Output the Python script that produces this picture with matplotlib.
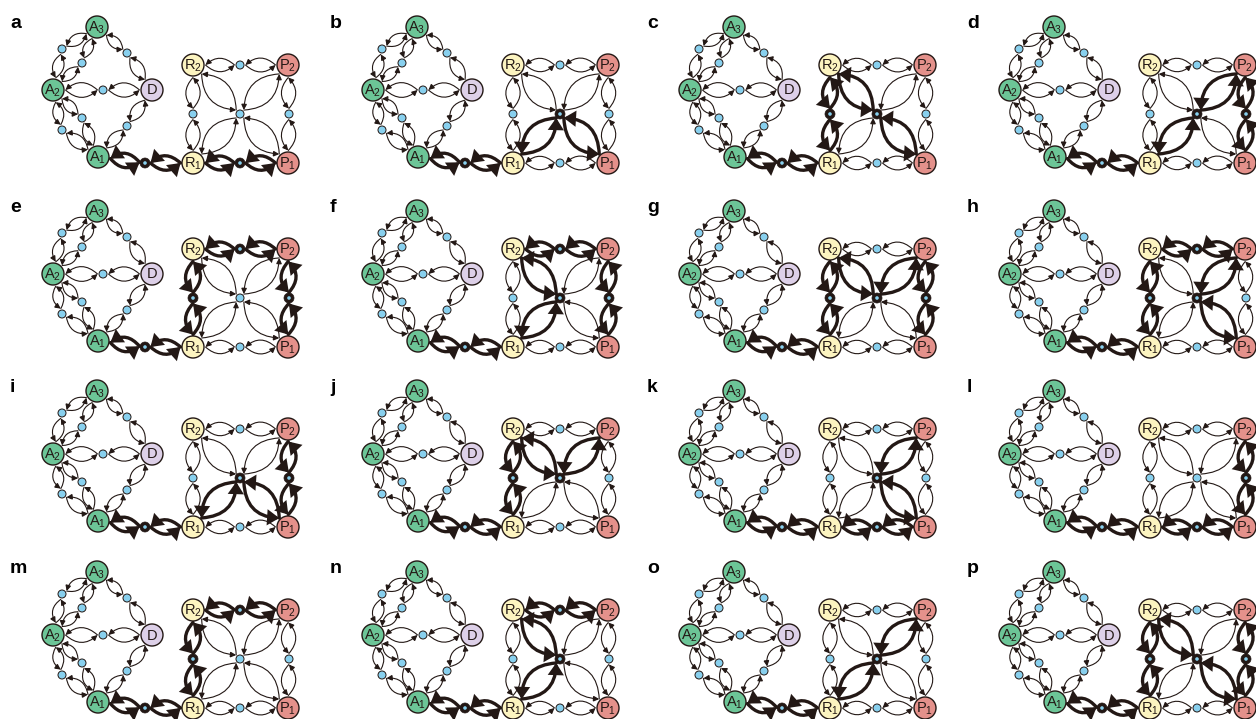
import numpy as np
import matplotlib.pyplot as plt
from matplotlib.patches import Circle, FancyArrowPatch

plt.rcParams['font.family'] = ['Liberation Sans', 'DejaVu Sans']
plt.rcParams['mathtext.fontset'] = 'custom'
plt.rcParams['mathtext.rm'] = 'Liberation Sans'

# ---- data ----
panels = list('abcdefghijklmnop')

# states of the network and their labels
states = ['A1', 'A2', 'A3', 'D', 'R1', 'R2', 'P1', 'P2']
state_labels = [r'$\mathregular{A_1}$', r'$\mathregular{A_2}$', r'$\mathregular{A_3}$', 'D',
                r'$\mathregular{R_1}$', r'$\mathregular{R_2}$', r'$\mathregular{P_1}$', r'$\mathregular{P_2}$']
state_kind = ['A', 'A', 'A', 'D', 'R', 'R', 'P', 'P']

# links: state -> transition point -> state
link_names = ['A3A2o', 'A3A2i', 'A2A1i', 'A2A1o', 'A3D', 'A2D', 'DA1',
              'AR', 'top', 'left', 'right', 'bot']
link_ends = [('A3', 'A2'), ('A3', 'A2'), ('A2', 'A1'), ('A2', 'A1'), ('A3', 'D'), ('A2', 'D'), ('D', 'A1'),
             ('A1', 'R1'), ('R2', 'P2'), ('R2', 'R1'), ('P2', 'P1'), ('R1', 'P1')]
# spokes from the central transition point
spokes = ['R1', 'R2', 'P1', 'P2']

# strong (thick) links in each panel
strong = [
    ['AR', 'bot'],                                  # a
    ['AR', 'cR1', 'cP1'],                           # b
    ['AR', 'left', 'cR2', 'cP1'],                   # c
    ['AR', 'cR1', 'cP2', 'right'],                  # d
    ['AR', 'top', 'left', 'right'],                 # e
    ['AR', 'top', 'cR2', 'cR1', 'right'],           # f
    ['AR', 'left', 'cR2', 'cP2', 'right'],          # g
    ['AR', 'top', 'left', 'cP2', 'cP1'],            # h
    ['AR', 'cR1', 'cP1', 'right'],                  # i
    ['AR', 'left', 'cR2', 'cP2'],                   # j
    ['AR', 'bot', 'cP2', 'cP1'],                    # k
    ['AR', 'bot', 'right'],                         # l
    ['AR', 'top', 'left'],                          # m
    ['AR', 'top', 'cR2', 'cR1'],                    # n
    ['AR', 'cP2', 'cR1'],                           # o
    ['AR', 'left', 'cR2', 'cP1', 'right'],          # p
]

# ---- layout (pixels inside one panel) ----
node_xy = {'A3': (97, 27), 'A2': (53, 90), 'D': (152, 90), 'A1': (98, 157),
           'R2': (193, 65), 'P2': (288, 65), 'R1': (193, 163), 'P1': (288, 163)}
dot_xy = {'A3A2o': (62, 49), 'A3A2i': (82, 63), 'A2A1i': (82, 118), 'A2A1o': (62, 130),
          'A3D': (127, 53), 'A2D': (103, 90), 'DA1': (127, 126), 'AR': (145, 163),
          'top': (240, 65), 'left': (193, 114), 'right': (289, 114), 'bot': (240, 163),
          'c': (240, 114)}
col_x = [0, 320, 637, 957]
row_y = [0, 184, 364, 545]

colors = {'A': '#6cc597', 'D': '#ddd0e8', 'R': '#fcf4c0', 'P': '#e4918b'}
ink = '#231815'
dot_color = '#88d0ee'
R_NODE = 11
R_DOT = 4


def draw_pair(ax, p, q, rp, rq, thick):
    # two curved arrows in opposite directions between p and q
    p, q = np.array(p, float), np.array(q, float)
    u = (q - p) / np.hypot(*(q - p))
    a = p + u * (rp + 1.5)
    b = q - u * (rq + 1.5)
    if thick:
        style = '-|>,head_length=0.6,head_width=0.4'
        ms, lw, rad = 9, 2.4, 0.45
    else:
        style = '-|>,head_length=0.6,head_width=0.3'
        ms, lw, rad = 5.5, 0.8, 0.45
    for s, e in [(a, b), (b, a)]:
        ax.add_patch(FancyArrowPatch(tuple(s), tuple(e), connectionstyle=f'arc3,rad={rad}',
                                     arrowstyle=style, mutation_scale=ms, lw=lw, color=ink,
                                     shrinkA=0, shrinkB=0, zorder=2, joinstyle='miter'))


def draw_dot(ax, xy, dark):
    if dark:
        ax.add_patch(Circle(xy, 5, fc=ink, ec=ink, lw=0.5, zorder=4))
        ax.add_patch(Circle(xy, 1.8, fc=dot_color, ec='none', zorder=5))
    else:
        ax.add_patch(Circle(xy, R_DOT, fc=dot_color, ec=ink, lw=0.7, zorder=4))


def draw_panel(ax, x0, y0, letter, on):
    pos = {k: (x0 + v[0], y0 + v[1]) for k, v in node_xy.items()}
    dots = {k: (x0 + v[0], y0 + v[1]) for k, v in dot_xy.items()}
    # links through transition points
    for name, (s, e) in zip(link_names, link_ends):
        thick = name in on
        draw_pair(ax, pos[s], dots[name], R_NODE, R_DOT, thick)
        draw_pair(ax, dots[name], pos[e], R_DOT, R_NODE, thick)
        draw_dot(ax, dots[name], thick)
    # spokes of the central point
    center_on = False
    for s in spokes:
        thick = ('c' + s) in on
        center_on = center_on or thick
        draw_pair(ax, pos[s], dots['c'], R_NODE, R_DOT, thick)
    draw_dot(ax, dots['c'], center_on)
    # states
    for st, lab, kind in zip(states, state_labels, state_kind):
        ax.add_patch(Circle(pos[st], R_NODE, fc=colors[kind], ec=ink, lw=1.0, zorder=6))
        ax.text(pos[st][0], pos[st][1] + 0.5, lab, ha='center', va='center',
                fontsize=10.5, color=ink, zorder=7)
    ax.text(x0 + 10, y0 + 28, letter, fontsize=14, fontweight='bold', ha='left', va='baseline')


fig = plt.figure(figsize=(12.56, 7.19), dpi=100)
ax = fig.add_axes([0, 0, 1, 1])
ax.set_xlim(0, 1256)
ax.set_ylim(719, 0)
ax.axis('off')

for i, letter in enumerate(panels):
    draw_panel(ax, col_x[i % 4], row_y[i // 4], letter, strong[i])

plt.savefig('out.png', dpi=100, facecolor='white')
